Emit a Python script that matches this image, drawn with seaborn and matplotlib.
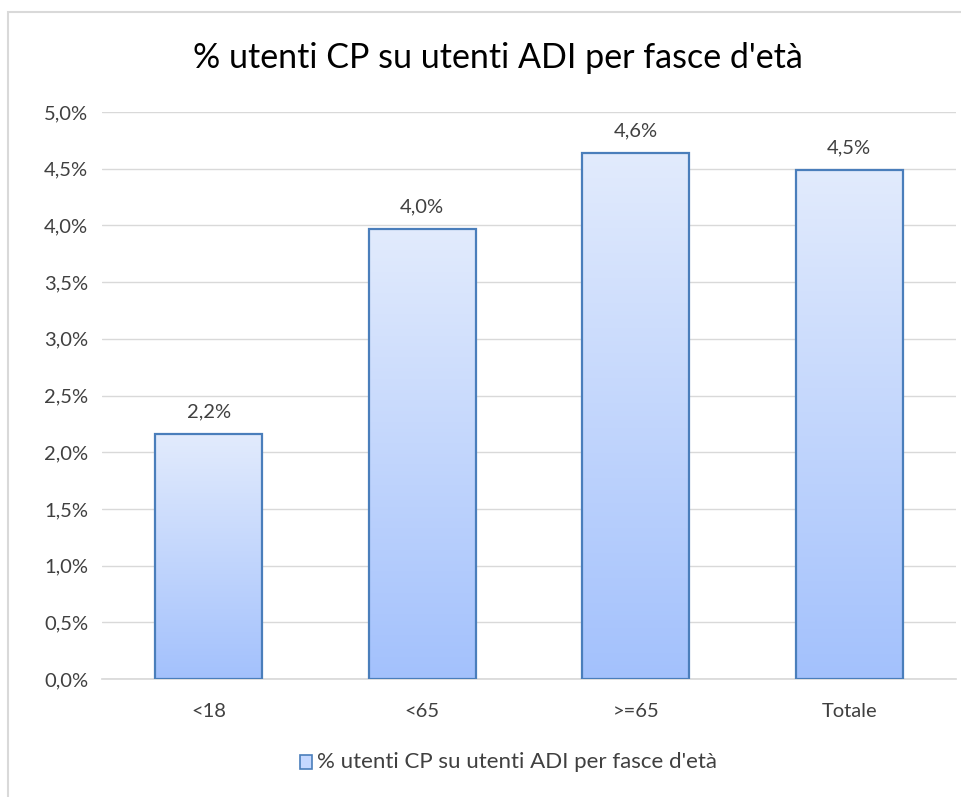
import numpy as np
import pandas as pd
import matplotlib
matplotlib.use("Agg")
import matplotlib.pyplot as plt
from matplotlib.patches import Rectangle
from matplotlib.colors import LinearSegmentedColormap
from matplotlib.ticker import FuncFormatter
import seaborn as sns

categories = ["<18", "<65", ">=65", "Totale"]
values = [0.0216, 0.0397, 0.0464, 0.0449]
value_labels = ["2,2%", "4,0%", "4,6%", "4,5%"]
series_name = "% utenti CP su utenti ADI per fasce d'età"
title = "% utenti CP su utenti ADI per fasce d'età"

sns.set_theme(style="white")
plt.rcParams['font.family'] = ['Lato', 'DejaVu Sans']

df = pd.DataFrame({"cat": categories, "val": values})

fig = plt.figure(figsize=(9.62, 7.97), dpi=100)
fig.patches.append(Rectangle((8/962, -0.01), 1.02, 1.01 - 12/797, transform=fig.transFigure,
                             fill=False, edgecolor="#d9d9d9", linewidth=1.5))
ax = fig.add_axes([102/962, 1 - 679/797, (956 - 102)/962, (679 - 112)/797])

sns.barplot(data=df, x="cat", y="val", ax=ax, width=0.5, color="#c5d8ff",
            edgecolor="#4a7ebb", linewidth=1.6, zorder=3)

cmap = LinearSegmentedColormap.from_list("g", ["#a3c1fc", "#e2ebfd"])
grad = np.linspace(0, 1, 256).reshape(-1, 1)
for p in ax.patches:
    x0, y0 = p.get_x(), p.get_y()
    w, h = p.get_width(), p.get_height()
    p.set_facecolor("none")
    im = ax.imshow(grad, cmap=cmap, origin="lower", aspect="auto",
                   extent=[x0, x0 + w, y0, y0 + h], zorder=2.5)
    im.set_clip_path(p)

for i, (v, lab) in enumerate(zip(values, value_labels)):
    ax.text(i, v + 0.0012, lab, ha="center", va="bottom", fontsize=14.5, color="#404040")

ax.set_xlim(-0.5, 3.5)
ax.set_ylim(0, 0.05)
ax.set_yticks(np.arange(0, 0.0501, 0.005))
ax.yaxis.set_major_formatter(FuncFormatter(lambda v, _: f"{v*100:.1f}%".replace(".", ",")))
ax.yaxis.grid(True, color="#d9d9d9", linewidth=1, zorder=0)
ax.set_axisbelow(True)
for s in ["top", "right", "left"]:
    ax.spines[s].set_visible(False)
ax.spines["bottom"].set_color("#d9d9d9")
ax.tick_params(axis="both", length=0, labelsize=14.5, labelcolor="#404040")
ax.tick_params(axis="y", pad=10)
ax.tick_params(axis="x", pad=17)
ax.set_xlabel("")
ax.set_ylabel("")

fig.text(498/962, 1 - 58/797, title, ha="center", va="center", fontsize=24.5,
         color="#000000")

# legend
lx, ly = 306/962, 1 - 762/797
fig.patches.append(Rectangle((lx - 6/962, ly - 7/797), 12/962, 14/797, transform=fig.transFigure,
                             facecolor="#c5d8ff", edgecolor="#4a7ebb", linewidth=1.2))
fig.text(lx + 11/962, ly, series_name, ha="left", va="center", fontsize=16, color="#404040")

fig.savefig("out.png", dpi=100)
